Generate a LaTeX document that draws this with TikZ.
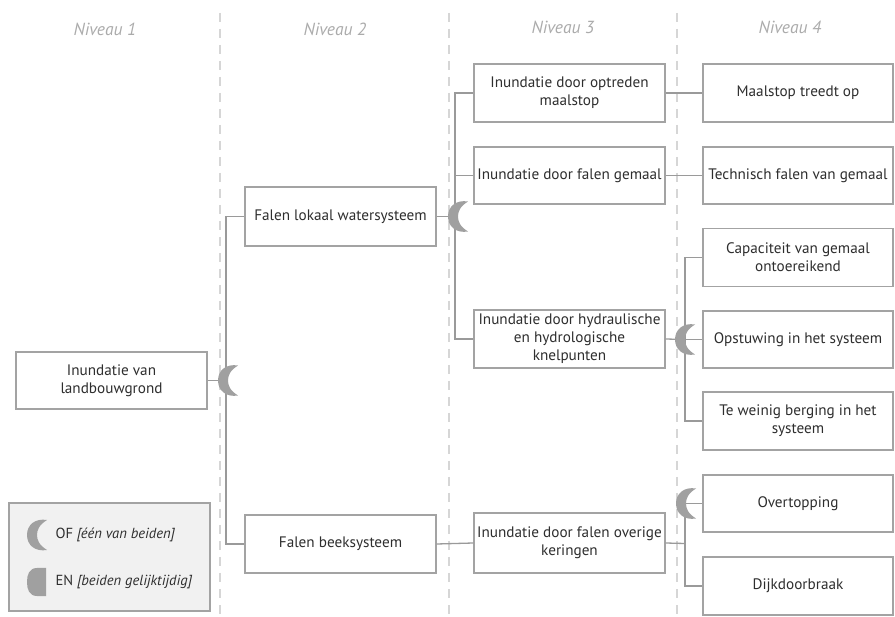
\documentclass[tikz,border=0pt]{standalone}
\usepackage{fontspec}
\setmainfont{PT Sans}
\definecolor{txt}{HTML}{2E2E2E}
\definecolor{edge}{HTML}{A3A3A3}
\definecolor{wire}{HTML}{9A9A9A}
\definecolor{gatefill}{HTML}{A0A0A0}
\definecolor{divider}{HTML}{D6D6D6}
\definecolor{headtxt}{HTML}{ABABAB}
\definecolor{legendbg}{HTML}{F1F1F1}
\begin{document}
\begin{tikzpicture}[x=1pt,y=-1pt,
  box/.style={draw=edge,line width=1.3pt,fill=white,text=txt,align=center,
    minimum width=191pt,minimum height=58pt,inner sep=1pt,
    font=\fontsize{15.2}{18}\selectfont},
  wirestyle/.style={draw=wire,line width=1.3pt},
  divline/.style={draw=divider,line width=1.8pt,dash pattern=on 9pt off 7pt},
  header/.style={text=headtxt,font=\fontsize{17.5}{20}\selectfont\itshape},
  orgate/.pic={\fill[gatefill] (20,-15) .. controls (8,-17) and (0,-10) .. (0,0)
      .. controls (0,10) and (8,17) .. (20,15)
      .. controls (12,10) and (10,5) .. (10,0)
      .. controls (10,-5) and (12,-10) .. (20,-15) -- cycle;},
  andgate/.pic={\fill[gatefill] (19,-14) -- (10,-14) .. controls (2,-14) and (0,-7) .. (0,0)
      .. controls (0,7) and (2,14) .. (10,14) -- (19,14) -- cycle;}
]
\useasboundingbox (0,0) rectangle (895,617);

% column dividers
\draw[divline] (220,13) -- (220,617);
\draw[divline] (449,13) -- (449,617);
\draw[divline] (677,13) -- (677,617);

% column headers
\node[header] (h1) at (105,29) {Niveau 1};
\node[header] (h2) at (335,29) {Niveau 2};
\node[header] (h3) at (563,27) {Niveau 3};
\node[header] (h4) at (790,27) {Niveau 4};

% level 1
\node[box,minimum height=57pt] (top) at (111.5,380.5) {Inundatie van\\landbouwgrond};

% level 2
\node[box,minimum height=59pt] (lokaal) at (340.5,216.5) {Falen lokaal watersysteem};
\node[box] (beek) at (340.5,544) {Falen beeksysteem};

% level 3
\node[box] (maalstop) at (569.5,93) {Inundatie door optreden\\maalstop};
\node[box,minimum height=57pt] (gemaal) at (569.5,175.5) {Inundatie door falen gemaal};
\node[box] (hydr) at (569.5,339) {Inundatie door hydraulische\\en hydrologische\\knelpunten};
\node[box,minimum height=60pt] (keringen) at (569.5,543) {Inundatie door falen overige\\keringen};

% level 4
\node[box,minimum width=190pt] (treedt) at (798,93) {Maalstop treedt op};
\node[box,minimum width=190pt,minimum height=57pt] (technisch) at (798,175.5) {Technisch falen van gemaal};
\node[box,minimum width=190pt] (capac) at (798,257.5) {Capaciteit van gemaal\\ontoereikend};
\node[box,minimum width=190pt,minimum height=57pt] (opst) at (798,339.5) {Opstuwing in het systeem};
\node[box,minimum width=190pt] (berging) at (798,421) {Te weinig berging in het\\systeem};
\node[box,minimum width=190pt,minimum height=57pt] (overt) at (798,503.5) {Overtopping};
\node[box,minimum width=190pt] (dijk) at (798,586) {Dijkdoorbraak};

% branch points
\coordinate (b1) at (226,380.5);
\coordinate (b2) at (455,216.5);
\coordinate (b3) at (685,339.5);
\coordinate (b4) at (685,543.5);

% connectors
\draw[wirestyle] (top.east) -- (b1);
\draw[wirestyle] (b1) |- (lokaal.west);
\draw[wirestyle] (b1) |- (beek.west);
\draw[wirestyle] (lokaal.east) -- (b2);
\draw[wirestyle] (b2) |- (maalstop.west);
\draw[wirestyle] (b2) |- (gemaal.west);
\draw[wirestyle] (b2) |- (hydr.west);
\draw[wirestyle] (beek.east) -- (keringen.west);
\draw[wirestyle] (maalstop.east) -- (treedt.west);
\draw[wirestyle] (gemaal.east) -- (technisch.west);
\draw[wirestyle] (hydr.east) -- (b3);
\draw[wirestyle] (b3) |- (capac.west);
\draw[wirestyle] (b3) |- (opst.west);
\draw[wirestyle] (b3) |- (berging.west);
\draw[wirestyle] (keringen.east) -- (b4);
\draw[wirestyle] (b4) |- (overt.west);
\draw[wirestyle] (b4) |- (dijk.west);

% OR gates
\pic at (218,380.5) {orgate};
\pic at (448,216.5) {orgate};
\pic at (675,339.5) {orgate};
\pic at (676,503.5) {orgate};

% legend
\node[draw=edge,line width=1.3pt,fill=legendbg,minimum width=201pt,minimum height=108pt] (legend) at (109.5,557) {};
\pic at (27,535) {orgate};
\pic at (27,582) {andgate};
\node[anchor=west,text=txt,font=\fontsize{14.6}{17}\selectfont] (legor) at (52,535) {OF \textit{[één van beiden]}};
\node[anchor=west,text=txt,font=\fontsize{14.6}{17}\selectfont] (legand) at (52,582) {EN \textit{[beiden gelijktijdig]}};
\end{tikzpicture}
\end{document}
